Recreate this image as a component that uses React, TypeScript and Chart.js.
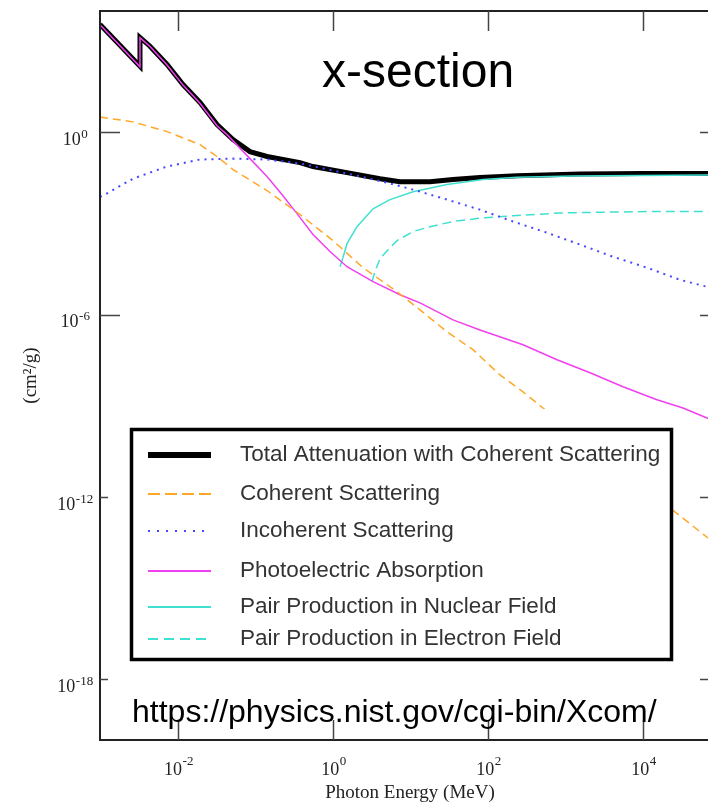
import React, { useEffect, useRef } from "react";
import { Chart, registerables } from "chart.js";

Chart.register(...registerables);

// All values below are read off the picture, as log10 of the quantity
// (energy in MeV, cross-section in cm^2/g).

// Total attenuation with coherent scattering
const totalLogE = [-3.0, -2.484, -2.484, -2.355, -2.135, -1.929, -1.71, -1.49, -1.284, -1.065, -0.845, -0.419, -0.252, 0.187, 0.613, 0.871, 1.258, 1.555, 1.903, 2.381, 3.194, 4.0, 5.0];
const totalLogMu = [3.56, 2.18, 3.13, 2.84, 2.24, 1.58, 0.99, 0.26, -0.23, -0.63, -0.79, -0.99, -1.12, -1.32, -1.52, -1.62, -1.62, -1.55, -1.48, -1.42, -1.37, -1.35, -1.35];

// Coherent scattering
const cohLogE = [-3.0, -2.574, -2.135, -1.71, -1.49, -1.284, -0.845, -0.419, 0.006, 0.394, 0.832, 1.129, 1.477, 1.813, 2.161, 2.458, 2.716, 4.587, 4.845, 5.0];
const cohLogMu = [0.51, 0.35, 0.03, -0.4, -0.79, -1.22, -1.91, -2.7, -3.56, -4.45, -5.24, -5.84, -6.56, -7.15, -7.98, -8.54, -9.07, -12.83, -13.35, -13.68];

// Incoherent scattering
const incLogE = [-3.0, -2.935, -2.574, -2.135, -1.71, -1.284, -0.845, -0.419, 0.187, 0.652, 1.039, 1.477, 1.903, 2.329, 2.768, 3.194, 3.619, 4.058, 4.484, 4.832, 5.0];
const incLogMu = [-2.12, -2.04, -1.52, -1.12, -0.89, -0.86, -0.89, -1.02, -1.35, -1.62, -1.88, -2.21, -2.54, -2.93, -3.3, -3.69, -4.09, -4.45, -4.85, -5.08, -5.21];

// Photoelectric absorption
const photoLogE = [-3.0, -2.484, -2.484, -2.355, -2.135, -1.929, -1.71, -1.49, -1.361, -1.065, -0.845, -0.639, -0.458, -0.252, -0.032, 0.187, 0.523, 0.871, 1.129, 1.555, 1.903, 2.458, 2.897, 3.323, 3.748, 4.187, 4.523, 4.832, 5.0];
const photoLogMu = [3.55, 2.16, 3.12, 2.83, 2.22, 1.56, 0.96, 0.22, -0.07, -0.86, -1.45, -2.08, -2.67, -3.36, -3.92, -4.42, -4.91, -5.34, -5.61, -6.17, -6.5, -6.99, -7.48, -7.91, -8.37, -8.8, -9.07, -9.4, -9.53];

// Pair production in nuclear field
const nucLogE = [0.097, 0.135, 0.187, 0.316, 0.523, 0.742, 1.039, 1.477, 1.942, 2.381, 3.103, 4.832, 5.0];
const nucLogMu = [-4.42, -4.12, -3.66, -3.1, -2.51, -2.21, -1.95, -1.71, -1.55, -1.47, -1.43, -1.4, -1.4];

// Pair production in electron field
const elLogE = [0.51, 0.548, 0.613, 0.742, 0.832, 1.039, 1.258, 1.555, 1.903, 2.329, 2.935, 4.058, 4.845, 5.0];
const elLogMu = [-4.91, -4.58, -4.15, -3.79, -3.56, -3.26, -3.1, -2.93, -2.82, -2.74, -2.65, -2.6, -2.6, -2.6];

const seriesLabels = [
  "Total Attenuation with Coherent Scattering",
  "Coherent Scattering",
  "Incoherent Scattering",
  "Photoelectric Absorption",
  "Pair Production in Nuclear Field",
  "Pair Production in Electron Field",
];

const xTickValues = [1e-2, 1, 1e2, 1e4];
const yTickValues = [1, 1e-6, 1e-12, 1e-18];

const xTitle = "Photon Energy (MeV)";
const yTitle = "(cm\u00B2/g)";
const bigLabel = "x-section";
const urlLabel = "https://physics.nist.gov/cgi-bin/Xcom/";

const toPoints = (le: number[], lm: number[]) =>
  le.map((e, i) => ({ x: Math.pow(10, e), y: Math.pow(10, lm[i]) }));

const COLORS = {
  total: "#000000",
  coh: "#FFA726",
  inc: "#4646FF",
  photo: "#F040F0",
  turq: "#40E0D0",
};

const legendDash: number[][] = [[], [12, 5], [2, 7], [], [], [10, 6]];

const SERIF = '"Liberation Serif", "DejaVu Serif", serif';
const SANS = '"Liberation Sans", Arial, sans-serif';

// draws "10" with a raised exponent; anchor 'center' or 'centerAt'
function drawPow(ctx: any, value: number, cx: number, baseline: number, raise: number) {
  const exp = String(Math.round(Math.log10(value)));
  ctx.font = "18px " + SERIF;
  const wb = ctx.measureText("10").width;
  ctx.font = "13px " + SERIF;
  const we = ctx.measureText(exp).width;
  const x0 = cx - (wb + we) / 2;
  ctx.textAlign = "left";
  ctx.textBaseline = "alphabetic";
  ctx.font = "18px " + SERIF;
  ctx.fillText("10", x0, baseline);
  ctx.font = "13px " + SERIF;
  ctx.fillText(exp, x0 + wb + 0.5, baseline - raise);
}

const legendPlugin = {
  id: "boxLegend",
  afterDatasetsDraw(chart: any) {
    const { ctx } = chart;
    const left = 130, top = 428, right = 673, bottom = 661;
    ctx.save();
    ctx.fillStyle = "#ffffff";
    ctx.fillRect(left, 409, right - left, bottom - 409);
    ctx.lineWidth = 3.5;
    ctx.strokeStyle = "#000";
    ctx.strokeRect(left + 1.5, top + 1.5, right - left - 3, bottom - top - 3);
    const rows = [455, 494, 531, 571, 607, 639];
    chart.data.datasets.forEach((ds: any, i: number) => {
      const y = rows[i];
      ctx.beginPath();
      ctx.setLineDash(legendDash[i]);
      ctx.strokeStyle = ds.borderColor;
      ctx.lineWidth = i === 0 ? 6 : 2;
      ctx.moveTo(148, y);
      ctx.lineTo(211, y);
      ctx.stroke();
      ctx.setLineDash([]);
      ctx.fillStyle = "#333";
      ctx.font = "22.5px " + SANS;
      ctx.textBaseline = "middle";
      ctx.textAlign = "left";
      ctx.fillText(ds.label, 240, y);
    });
    ctx.restore();
  },
};

const framePlugin = {
  id: "frameTicks",
  afterDraw(chart: any) {
    const { ctx, chartArea: a, scales } = chart;
    const xs = scales.x, ys = scales.y;
    ctx.save();
    ctx.strokeStyle = "#222";
    ctx.lineWidth = 2;
    ctx.strokeRect(a.left, a.top, a.right - a.left, a.bottom - a.top);
    ctx.strokeStyle = "#444";
    ctx.lineWidth = 1.5;
    ctx.beginPath();
    xTickValues.forEach((v) => {
      const px = Math.round(xs.getPixelForValue(v)) + 0.5;
      ctx.moveTo(px, a.top);
      ctx.lineTo(px, a.top + 20);
      ctx.moveTo(px, a.bottom);
      ctx.lineTo(px, a.bottom - 20);
    });
    const leftLen = [20, 20, 8, 8];
    yTickValues.forEach((v, i) => {
      const py = Math.round(ys.getPixelForValue(v)) + 0.5;
      ctx.moveTo(a.left, py);
      ctx.lineTo(a.left + leftLen[i], py);
      ctx.moveTo(a.right, py);
      ctx.lineTo(a.right - 20, py);
    });
    ctx.stroke();
    // tick labels, positioned by the scales
    ctx.fillStyle = "#222";
    xTickValues.forEach((v) => {
      drawPow(ctx, v, xs.getPixelForValue(v) + 1, a.bottom + 35, 10);
    });
    yTickValues.forEach((v) => {
      drawPow(ctx, v, a.left - 25, ys.getPixelForValue(v) + 12.5, 7);
    });
    ctx.fillStyle = "#000";
    ctx.textBaseline = "alphabetic";
    ctx.textAlign = "left";
    ctx.font = "48px " + SANS;
    ctx.fillText(bigLabel, 322, 87);
    ctx.font = "32px " + SANS;
    ctx.fillText(urlLabel, 132, 722);
    ctx.restore();
  },
};

export default function App() {
  const ref = useRef<HTMLCanvasElement>(null);
  useEffect(() => {
    document.body.style.margin = "0";
    const ds = (i: number, pts: any[], color: string, width: number, dash: number[], order: number) => ({
      label: seriesLabels[i],
      data: pts,
      borderColor: color,
      backgroundColor: color,
      borderWidth: width,
      borderDash: dash,
      pointRadius: 0,
      tension: 0,
      fill: false,
      order,
    });
    const chart = new Chart(ref.current as HTMLCanvasElement, {
      type: "line",
      data: {
        datasets: [
          ds(0, toPoints(totalLogE, totalLogMu), COLORS.total, 5, [], 1),
          ds(1, toPoints(cohLogE, cohLogMu), COLORS.coh, 1.5, [8, 5], 0),
          ds(2, toPoints(incLogE, incLogMu), COLORS.inc, 2, [2, 5], 0),
          ds(3, toPoints(photoLogE, photoLogMu), COLORS.photo, 1.5, [], 0),
          ds(4, toPoints(nucLogE, nucLogMu), COLORS.turq, 1.5, [], 0),
          ds(5, toPoints(elLogE, elLogMu), COLORS.turq, 1.5, [9, 5], 0),
        ],
      },
      options: {
        animation: false,
        responsive: false,
        devicePixelRatio: 1,
        layout: { padding: { left: 0, top: 11, right: 10, bottom: 0 } },
        plugins: { legend: { display: false }, tooltip: { enabled: false } },
        scales: {
          x: {
            type: "logarithmic",
            min: 1e-3,
            max: 1e5,
            afterBuildTicks: (s: any) => {
              s.ticks = xTickValues.map((v) => ({ value: v }));
            },
            afterFit: (s: any) => {
              s.height = 66;
              s.paddingLeft = 0;
              s.paddingRight = 0;
            },
            grid: { display: false, drawTicks: false },
            border: { display: false },
            ticks: { display: false },
            title: {
              display: true,
              text: xTitle,
              font: { family: SERIF, size: 19 },
              color: "#222",
              padding: { top: 0, bottom: 2 },
            },
          },
          y: {
            type: "logarithmic",
            min: 1e-20,
            max: 1e4,
            afterBuildTicks: (s: any) => {
              s.ticks = yTickValues.map((v) => ({ value: v }));
            },
            afterFit: (s: any) => {
              s.width = 100;
              s.paddingTop = 0;
              s.paddingBottom = 0;
            },
            grid: { display: false, drawTicks: false },
            border: { display: false },
            ticks: { display: false },
            title: {
              display: true,
              text: yTitle,
              font: { family: SERIF, size: 19 },
              color: "#222",
              padding: { top: 20, bottom: 0 },
            },
          },
        },
      } as any,
      plugins: [legendPlugin, framePlugin],
    });
    return () => chart.destroy();
  }, []);
  return (
    <div style={{ width: 708, height: 806, overflow: "hidden", background: "#fff" }}>
      <canvas ref={ref} width={730} height={806} style={{ display: "block", width: 730, height: 806 }} />
    </div>
  );
}
